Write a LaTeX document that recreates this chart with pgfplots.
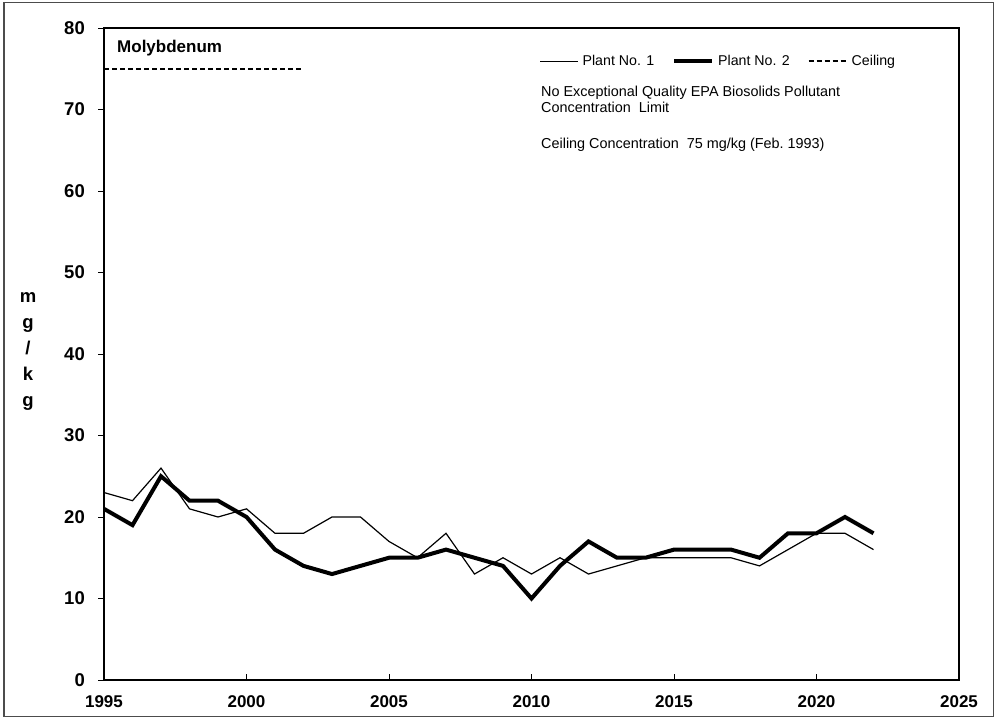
\documentclass[border=0pt]{standalone}
\usepackage{fontspec}
\setmainfont{Liberation Sans}
\usepackage{pgfplots}
\pgfplotsset{compat=1.18}

\pgfplotstableread{
year p1 p2
1995 23 21
1996 22 19
1997 26 25
1998 21 22
1999 20 22
2000 21 20
2001 18 16
2002 18 14
2003 20 13
2004 20 14
2005 17 15
2006 15 15
2007 18 16
2008 13 15
2009 15 14
2010 13 10
2011 15 14
2012 13 17
2013 14 15
2014 15 15
2015 15 16
2016 15 16
2017 15 16
2018 14 15
2019 16 18
2020 18 18
2021 18 20
2022 16 18
}\moly

\begin{document}
\begin{tikzpicture}[x=1pt,y=1pt]
\useasboundingbox (0,0) rectangle (998,719);
\draw[line width=1.4pt, black!70] (4,2.5) rectangle (993.5,716.5);
\begin{axis}[
  at={(104pt,39pt)}, anchor=south west,
  scale only axis, width=855pt, height=652pt,
  xmin=1995, xmax=2025, ymin=0, ymax=80,
  xtick={1995,2000,...,2025}, ytick={0,10,...,80},
  xtick pos=bottom, ytick pos=left,
  tick align=inside, major tick length=6pt,
  ytick style={xshift=-6pt},
  tick style={black, line width=0.8pt},
  axis line style={line width=1.3pt},
  /pgf/number format/assume math mode=true,
  /pgf/number format/1000 sep={},
  xticklabel style={font=\bfseries\fontsize{17}{18}\selectfont, inner sep=0pt, yshift=-15pt},
  yticklabel style={font=\bfseries\fontsize{18.5}{19}\selectfont, inner sep=0pt, xshift=-19pt},
  legend columns=3,
  legend style={draw=none, fill=none, at={(0.509,0.949)}, anchor=west,
    font=\fontsize{14.2}{16}\selectfont, inner sep=0pt,
    /tikz/every odd column/.append style={column sep=3pt},
    /tikz/every even column/.append style={column sep=17pt},
    nodes={inner sep=1pt}},
  legend image code/.code={\draw[#1] (0pt,0pt) -- (38pt,0pt);},
  clip=false,
]
\addplot[black, line width=1.2pt] table[x=year, y=p1] {\moly};
\addlegendentry{Plant No. 1}
\addplot[black, line width=4pt] table[x=year, y=p2] {\moly};
\addlegendentry{Plant No. 2}
\addplot[black, line width=2pt, dash pattern=on 5pt off 3pt] coordinates {(1995,75) (2002,75)};
\addlegendentry{Ceiling}
\end{axis}
\node[anchor=west, font=\bfseries\fontsize{17}{19}\selectfont, inner sep=0pt] at (117,671) {Molybdenum};
\node[anchor=north west, align=left, font=\fontsize{14.4}{16}\selectfont, inner sep=0pt] at (541,633) {No Exceptional Quality EPA Biosolids Pollutant\\Concentration\ \ Limit};
\node[anchor=west, font=\fontsize{14.4}{16}\selectfont, inner sep=0pt] at (541,574) {Ceiling Concentration\ \ 75 mg/kg (Feb.\ 1993)};
\node[align=center, font=\bfseries\fontsize{18.5}{26}\selectfont, inner sep=0pt] at (28,368) {m\\g\\/\\k\\g};
\end{tikzpicture}
\end{document}
